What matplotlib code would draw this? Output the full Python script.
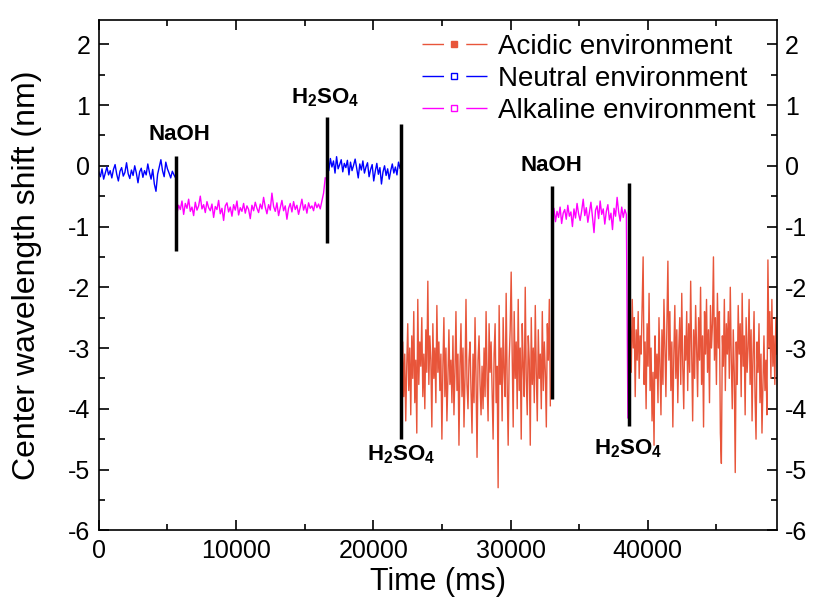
import numpy as np
import matplotlib
matplotlib.use('Agg')
import matplotlib.pyplot as plt
from matplotlib.lines import Line2D
from matplotlib.ticker import MultipleLocator

plt.rcParams['font.family'] = ['Liberation Sans', 'DejaVu Sans']
plt.rcParams['mathtext.fontset'] = 'custom'
plt.rcParams['mathtext.rm'] = 'Liberation Sans'
plt.rcParams['mathtext.bf'] = 'Liberation Sans:bold'
plt.rcParams['axes.unicode_minus'] = False

# segments: (start ms, end ms, values)
neutral1_span = (0, 5600)
neutral1 = [-0.10, -0.18, -0.05, -0.22, -0.12, -0.02, -0.15, -0.08, -0.20, -0.06,
            0.02, -0.14, -0.25, -0.09, -0.03, -0.17, -0.11, 0.05, -0.13, -0.21,
            -0.07, -0.16, 0.00, -0.12, -0.28, -0.10, -0.04, -0.19, -0.08, -0.15,
            0.03, -0.11, -0.22, -0.06, -0.30, -0.42, -0.14, -0.02, 0.10, -0.08,
            -0.18, 0.06, -0.05, -0.12, -0.20, -0.09, -0.15, -0.20]

alkaline1_span = (5700, 16500)
alkaline1 = [-0.78, -0.65, -0.72, -0.58, -0.80, -0.62, -0.70, -0.55, -0.75, -0.68,
             -0.82, -0.60, -0.73, -0.66, -0.50, -0.71, -0.64, -0.77, -0.59, -0.69,
             -0.74, -0.63, -0.85, -0.67, -0.72, -0.57, -0.79, -0.70, -0.90, -0.66,
             -0.61, -0.76, -0.68, -0.83, -0.64, -0.73, -0.58, -0.81, -0.69, -0.75,
             -0.62, -0.78, -0.66, -0.72, -0.87, -0.65, -0.74, -0.60, -0.70, -0.77,
             -0.63, -0.71, -0.52, -0.68, -0.79, -0.64, -0.73, -0.45, -0.67, -0.75,
             -0.61, -0.82, -0.69, -0.57, -0.74, -0.66, -0.88, -0.70, -0.62, -0.76,
             -0.59, -0.72, -0.65, -0.80, -0.68, -0.55, -0.73, -0.64, -0.78, -0.61,
             -0.70, -0.66, -0.74, -0.60, -0.69, -0.63, -0.71, -0.58, -0.45, -0.20]

neutral2_span = (16650, 21950)
neutral2 = [0.05, -0.08, 0.12, -0.02, 0.08, -0.12, 0.15, -0.05, 0.02, 0.10,
            -0.10, 0.04, -0.03, 0.09, -0.15, 0.06, -0.08, 0.01, 0.11, -0.04,
            -0.20, 0.03, -0.07, 0.08, -0.12, -0.02, 0.05, -0.18, -0.06, 0.02,
            -0.25, -0.09, 0.04, -0.14, -0.03, -0.30, -0.10, 0.00, -0.16, -0.05,
            -0.22, -0.08, 0.03, -0.12, -0.02, -0.15, 0.06, -0.04]

acidic1_span = (22000, 32900)
acidic1 = [-2.50, -3.40, -2.90, -3.80, -3.10, -4.20, -3.30, -2.60, -3.70, -3.00,
           -4.10, -2.80, -3.50, -2.40, -3.90, -3.20, -4.40, -2.20, -3.60, -2.90,
           -3.30, -2.50, -3.80, -3.10, -4.00, -2.70, -3.40, -1.90, -3.60, -2.80,
           -3.20, -4.30, -2.60, -3.50, -3.00, -3.90, -2.30, -3.40, -2.90, -3.70,
           -3.10, -4.50, -3.30, -2.50, -3.80, -3.00, -4.20, -3.50, -2.70, -3.60,
           -3.20, -3.90, -2.80, -4.10, -3.40, -2.40, -3.70, -3.10, -4.60, -3.30,
           -2.60, -3.80, -3.00, -4.30, -3.50, -2.20, -3.60, -4.00, -3.20, -2.90,
           -3.70, -4.40, -3.10, -3.90, -2.50, -3.50, -4.80, -3.20, -2.80, -3.60,
           -4.10, -3.30, -4.00, -3.00, -3.80, -2.40, -3.50, -4.20, -2.60, -3.40,
           -2.90, -3.70, -4.50, -3.10, -2.60, -3.90, -3.30, -5.30, -2.30, -3.60,
           -3.00, -4.20, -2.50, -3.40, -3.80, -2.10, -3.60, -4.60, -3.20, -2.70,
           -1.75, -3.10, -4.30, -2.40, -3.50, -2.90, -4.00, -2.20, -3.70, -3.00,
           -4.50, -2.60, -3.30, -3.80, -2.00, -3.50, -4.10, -2.80, -3.20, -4.60,
           -2.50, -3.60, -3.00, -3.90, -2.30, -3.40, -4.20, -2.70, -3.50, -3.10,
           -4.00, -2.40, -3.70, -2.90, -3.40, -4.30, -2.60, -3.20, -2.20, -3.95]

alkaline2_span = (33050, 38550)
alkaline2 = [-0.80, -0.70, -0.92, -0.75, -0.85, -0.68, -0.95, -0.78, -0.72, -0.88,
             -0.65, -0.83, -0.76, -1.00, -0.71, -0.86, -0.62, -0.79, -0.90, -0.74,
             -0.55, -0.82, -0.69, -0.93, -0.77, -0.60, -0.84, -1.10, -0.73, -0.66,
             -0.87, -0.58, -0.80, -0.71, -0.96, -0.75, -0.64, -0.89, -0.78, -1.05,
             -0.70, -0.83, -0.52, -0.76, -0.91, -0.68, -0.85, -0.72, -0.80, -4.15]

acidic2_span = (38650, 49400)
acidic2 = [-1.30, -2.60, -3.40, -2.20, -3.00, -2.50, -3.80, -2.70, -3.20, -2.40,
           -3.50, -2.80, -3.10, -2.30, -1.50, -3.60, -2.90, -4.00, -2.60, -3.30,
           -2.10, -3.70, -3.00, -4.20, -3.40, -4.60, -2.80, -3.50, -3.10, -3.90,
           -2.50, -3.30, -4.10, -2.70, -3.60, -2.20, -3.00, -3.80, -2.60, -1.57,
           -3.20, -2.40, -3.70, -2.90, -4.30, -3.10, -2.30, -3.50, -2.70, -3.90,
           -3.00, -2.50, -3.60, -2.10, -3.30, -4.00, -2.80, -3.20, -2.40, -3.70,
           -2.60, -3.40, -1.90, -3.10, -4.20, -2.70, -3.50, -2.30, -3.00, -3.80,
           -2.50, -3.20, -2.00, -3.60, -2.80, -4.30, -2.40, -3.10, -2.20, -3.40,
           -2.70, -3.90, -2.30, -3.00, -2.60, -1.50, -3.20, -2.50, -3.60, -2.10,
           -3.00, -2.40, -4.40, -4.90, -2.80, -3.30, -2.20, -3.70, -2.60, -3.10,
           -2.40, -3.50, -2.00, -3.20, -4.00, -2.70, -3.40, -5.05, -2.90, -3.60,
           -2.30, -3.10, -2.60, -3.80, -2.10, -3.30, -2.80, -4.10, -2.50, -3.40,
           -3.00, -2.20, -3.60, -2.70, -4.20, -3.10, -2.40, -3.80, -4.50, -2.90,
           -3.40, -2.60, -3.90, -3.10, -4.40, -3.60, -2.80, -3.70, -3.20, -4.10,
           -1.55, -3.00, -2.40, -3.50, -2.20, -3.30, -2.80, -3.60, -2.50, -3.10]

# reagent additions: time, top and bottom of marker line, label and label y
event_x = [5600, 16600, 22000, 33000, 38600]
event_top = [0.16, 0.81, 0.68, -0.33, -0.29]
event_bottom = [-1.41, -1.27, -4.49, -3.84, -4.28]
event_label = ['NaOH', r'H$_\mathbf{2}$SO$_\mathbf{4}$', r'H$_\mathbf{2}$SO$_\mathbf{4}$',
               'NaOH', r'H$_\mathbf{2}$SO$_\mathbf{4}$']
event_label_x = [5900, 16500, 22000, 33000, 38600]
event_label_y = [0.52, 1.12, -4.75, 0.0, -4.65]

c_acid = '#E8553A'
c_neut = '#0000FF'
c_alk = '#FF00FF'

fig = plt.figure(figsize=(8.16, 6.06), dpi=100)
ax = fig.add_axes([0.121, 0.125, 0.831, 0.842])

segments = [(neutral1_span, neutral1, c_neut), (alkaline1_span, alkaline1, c_alk),
            (neutral2_span, neutral2, c_neut), (acidic1_span, acidic1, c_acid),
            (alkaline2_span, alkaline2, c_alk), (acidic2_span, acidic2, c_acid)]
for span, vals, col in segments:
    t = np.linspace(span[0], span[1], len(vals))
    ax.plot(t, vals, color=col, lw=1.0)

ax.vlines(event_x, event_bottom, event_top, colors='black', lw=2.5, zorder=3)
for x, y, s in zip(event_label_x, event_label_y, event_label):
    ax.text(x, y, s, ha='center', va='center', fontsize=16, fontweight='bold')

ax.set_xlim(0, 49400)
ax.set_ylim(-6, 2.4)
ax.xaxis.set_major_locator(MultipleLocator(10000))
ax.xaxis.set_minor_locator(MultipleLocator(5000))
ax.yaxis.set_major_locator(MultipleLocator(1))
ax.yaxis.set_minor_locator(MultipleLocator(0.5))
ax.tick_params(which='both', direction='in', top=True, right=True,
               labelright=True, labelsize=18, width=1.2, pad=6)
ax.tick_params(which='major', length=7)
ax.tick_params(which='minor', length=4)
for sp in ax.spines.values():
    sp.set_linewidth(1.2)

ax.set_xlabel('Time (ms)', fontsize=22, labelpad=3)
ax.set_ylabel('Center wavelength shift (nm)', fontsize=23)
ax.yaxis.set_label_coords(-0.083, 0.5)

handles = [
    Line2D([], [], color=c_acid, lw=1.0, ls=(0, (15.5, 16)), marker='s', ms=4,
           mfc=c_acid, mec=c_acid),
    Line2D([], [], color=c_neut, lw=1.0, ls=(0, (15.5, 16)), marker='s', ms=4,
           mfc='white', mec=c_neut),
    Line2D([], [], color=c_alk, lw=1.0, ls=(0, (15.5, 16)), marker='s', ms=4,
           mfc='white', mec=c_alk),
]
ax.legend(handles, ['Acidic environment', 'Neutral environment', 'Alkaline environment'],
          loc='upper right', frameon=False, fontsize=20, handlelength=2.35,
          handletextpad=0.4, labelspacing=0.22, borderaxespad=0.0,
          bbox_to_anchor=(0.985, 0.995), numpoints=1)

fig.savefig('out.png', dpi=100)
